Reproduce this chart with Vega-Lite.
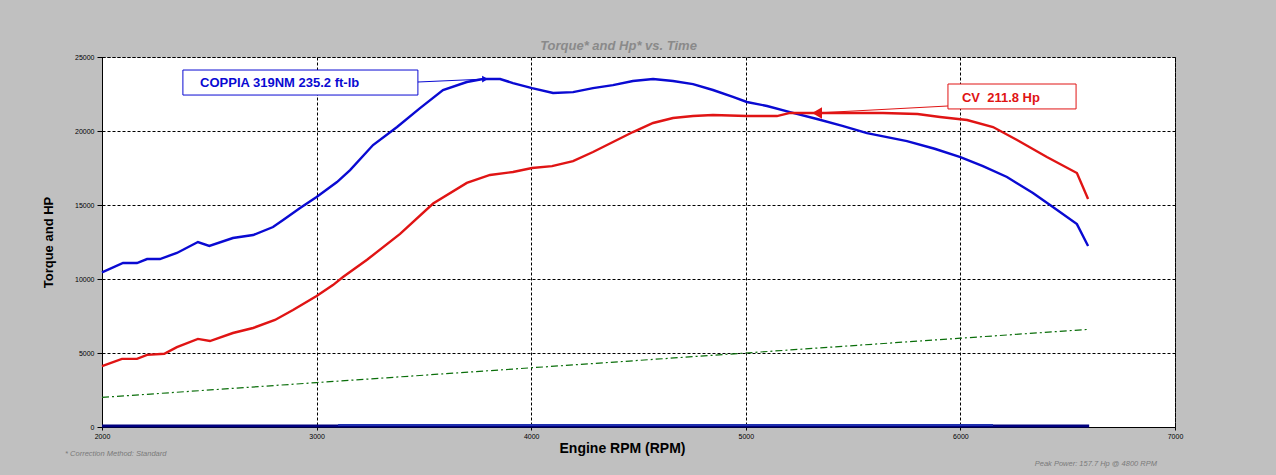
{
  "$schema": "https://vega.github.io/schema/vega-lite/v6.json",
  "width": 1073,
  "height": 370,
  "autosize": {"type": "none"},
  "padding": {"left": 102, "top": 57, "right": 101, "bottom": 48},
  "background": "#c0c0c0",
  "config": {
    "view": {"fill": "white", "stroke": "black", "strokeDash": [3, 2], "strokeWidth": 1},
    "font": "Liberation Sans"
  },
  "title": {
    "text": "Torque* and Hp* vs. Time",
    "anchor": "middle",
    "dx": -20,
    "offset": 0,
    "fontSize": 13,
    "fontWeight": "bold",
    "fontStyle": "italic",
    "color": "#8a8a8a",
    "font": "Liberation Sans"
  },
  "datasets": {
    "curves": [
      {"rpm": 2000, "value": 10450, "series": "torque"},
      {"rpm": 2098, "value": 11080, "series": "torque"},
      {"rpm": 2163, "value": 11080, "series": "torque"},
      {"rpm": 2210, "value": 11350, "series": "torque"},
      {"rpm": 2270, "value": 11350, "series": "torque"},
      {"rpm": 2349, "value": 11760, "series": "torque"},
      {"rpm": 2447, "value": 12500, "series": "torque"},
      {"rpm": 2500, "value": 12230, "series": "torque"},
      {"rpm": 2610, "value": 12770, "series": "torque"},
      {"rpm": 2704, "value": 12970, "series": "torque"},
      {"rpm": 2797, "value": 13510, "series": "torque"},
      {"rpm": 2844, "value": 13990, "series": "torque"},
      {"rpm": 2923, "value": 14800, "series": "torque"},
      {"rpm": 3000, "value": 15540, "series": "torque"},
      {"rpm": 3095, "value": 16550, "series": "torque"},
      {"rpm": 3156, "value": 17360, "series": "torque"},
      {"rpm": 3263, "value": 19050, "series": "torque"},
      {"rpm": 3375, "value": 20270, "series": "torque"},
      {"rpm": 3482, "value": 21550, "series": "torque"},
      {"rpm": 3589, "value": 22770, "series": "torque"},
      {"rpm": 3700, "value": 23310, "series": "torque"},
      {"rpm": 3775, "value": 23510, "series": "torque"},
      {"rpm": 3855, "value": 23510, "series": "torque"},
      {"rpm": 3915, "value": 23240, "series": "torque"},
      {"rpm": 4004, "value": 22900, "series": "torque"},
      {"rpm": 4102, "value": 22570, "series": "torque"},
      {"rpm": 4195, "value": 22630, "series": "torque"},
      {"rpm": 4288, "value": 22900, "series": "torque"},
      {"rpm": 4381, "value": 23100, "series": "torque"},
      {"rpm": 4474, "value": 23380, "series": "torque"},
      {"rpm": 4568, "value": 23510, "series": "torque"},
      {"rpm": 4661, "value": 23380, "series": "torque"},
      {"rpm": 4754, "value": 23170, "series": "torque"},
      {"rpm": 4847, "value": 22770, "series": "torque"},
      {"rpm": 4940, "value": 22300, "series": "torque"},
      {"rpm": 5005, "value": 21960, "series": "torque"},
      {"rpm": 5099, "value": 21690, "series": "torque"},
      {"rpm": 5206, "value": 21280, "series": "torque"},
      {"rpm": 5332, "value": 20810, "series": "torque"},
      {"rpm": 5450, "value": 20350, "series": "torque"},
      {"rpm": 5565, "value": 19860, "series": "torque"},
      {"rpm": 5751, "value": 19320, "series": "torque"},
      {"rpm": 5880, "value": 18800, "series": "torque"},
      {"rpm": 6000, "value": 18240, "series": "torque"},
      {"rpm": 6105, "value": 17630, "series": "torque"},
      {"rpm": 6217, "value": 16890, "series": "torque"},
      {"rpm": 6338, "value": 15810, "series": "torque"},
      {"rpm": 6431, "value": 14860, "series": "torque"},
      {"rpm": 6543, "value": 13710, "series": "torque"},
      {"rpm": 6595, "value": 12230, "series": "torque"},
      {"rpm": 2000, "value": 4120, "series": "hp"},
      {"rpm": 2093, "value": 4600, "series": "hp"},
      {"rpm": 2163, "value": 4600, "series": "hp"},
      {"rpm": 2210, "value": 4870, "series": "hp"},
      {"rpm": 2290, "value": 4950, "series": "hp"},
      {"rpm": 2349, "value": 5400, "series": "hp"},
      {"rpm": 2447, "value": 5950, "series": "hp"},
      {"rpm": 2503, "value": 5810, "series": "hp"},
      {"rpm": 2610, "value": 6350, "series": "hp"},
      {"rpm": 2704, "value": 6690, "series": "hp"},
      {"rpm": 2806, "value": 7230, "series": "hp"},
      {"rpm": 2890, "value": 7900, "series": "hp"},
      {"rpm": 3000, "value": 8850, "series": "hp"},
      {"rpm": 3076, "value": 9590, "series": "hp"},
      {"rpm": 3123, "value": 10135, "series": "hp"},
      {"rpm": 3235, "value": 11300, "series": "hp"},
      {"rpm": 3389, "value": 13050, "series": "hp"},
      {"rpm": 3543, "value": 15100, "series": "hp"},
      {"rpm": 3700, "value": 16490, "series": "hp"},
      {"rpm": 3808, "value": 17030, "series": "hp"},
      {"rpm": 3915, "value": 17230, "series": "hp"},
      {"rpm": 4004, "value": 17500, "series": "hp"},
      {"rpm": 4097, "value": 17630, "series": "hp"},
      {"rpm": 4195, "value": 17970, "series": "hp"},
      {"rpm": 4288, "value": 18580, "series": "hp"},
      {"rpm": 4381, "value": 19260, "series": "hp"},
      {"rpm": 4474, "value": 19930, "series": "hp"},
      {"rpm": 4568, "value": 20540, "series": "hp"},
      {"rpm": 4661, "value": 20880, "series": "hp"},
      {"rpm": 4754, "value": 21010, "series": "hp"},
      {"rpm": 4847, "value": 21080, "series": "hp"},
      {"rpm": 5005, "value": 21010, "series": "hp"},
      {"rpm": 5145, "value": 21010, "series": "hp"},
      {"rpm": 5206, "value": 21220, "series": "hp"},
      {"rpm": 5400, "value": 21220, "series": "hp"},
      {"rpm": 5639, "value": 21220, "series": "hp"},
      {"rpm": 5800, "value": 21150, "series": "hp"},
      {"rpm": 5905, "value": 20950, "series": "hp"},
      {"rpm": 6031, "value": 20740, "series": "hp"},
      {"rpm": 6152, "value": 20270, "series": "hp"},
      {"rpm": 6264, "value": 19390, "series": "hp"},
      {"rpm": 6403, "value": 18240, "series": "hp"},
      {"rpm": 6543, "value": 17160, "series": "hp"},
      {"rpm": 6595, "value": 15400, "series": "hp"},
      {"rpm": 2000, "value": 2000, "series": "rpm"},
      {"rpm": 3000, "value": 3000, "series": "rpm"},
      {"rpm": 4000, "value": 4000, "series": "rpm"},
      {"rpm": 5000, "value": 5000, "series": "rpm"},
      {"rpm": 6000, "value": 6000, "series": "rpm"},
      {"rpm": 6600, "value": 6600, "series": "rpm"},
      {"rpm": 2000, "value": 70, "series": "base"},
      {"rpm": 6600, "value": 70, "series": "base"},
      {"rpm": 3100, "value": 140, "series": "base2"},
      {"rpm": 6152, "value": 140, "series": "base2"}
    ],
    "notes": [
      {"series": "torque", "label": "COPPIA 319NM 235.2 ft-lb", "x1": 2377, "x2": 3472, "y1": 22430, "y2": 24120, "tx": 2457, "ty": 23240, "ax1": 3472, "ay1": 23310, "ax2": 3785, "ay2": 23510},
      {"series": "hp", "label": "CV\u00a0\u00a0211.8 Hp", "x1": 5942, "x2": 6539, "y1": 21490, "y2": 23175, "tx": 6007, "ty": 22220, "ax1": 5942, "ay1": 21690, "ax2": 5332, "ay2": 21220}
    ],
    "footnotes": [
      {"label": "* Correction Method: Standard", "rpm": 1828, "value": -1824},
      {"label": "Peak Power: 157.7 Hp @ 4800 RPM", "rpm": 6916, "value": -2500}
    ]
  },
  "encoding": {
    "x": {
      "type": "quantitative",
      "scale": {"domain": [2000, 7000], "nice": false, "zero": false},
      "axis": {
        "title": "Engine RPM (RPM)",
        "values": [2000, 3000, 4000, 5000, 6000, 7000],
        "format": "d",
        "labelOverlap": false,
        "labelFontSize": 7,
        "labelColor": "black",
        "labelPadding": 2,
        "labelFlush": false,
        "tickSize": 3,
        "tickColor": "black",
        "domainColor": "black",
        "grid": true,
        "gridColor": "black",
        "gridDash": [3, 2],
        "titleFontSize": 14,
        "titleFontWeight": "bold",
        "titleColor": "black",
        "titleX": 520,
        "titleY": 21,
        "titleBaseline": "middle"
      }
    },
    "y": {
      "type": "quantitative",
      "scale": {"domain": [0, 25000], "nice": false},
      "axis": {
        "title": "Torque and HP",
        "values": [0, 5000, 10000, 15000, 20000, 25000],
        "format": "d",
        "labelOverlap": false,
        "labelFontSize": 7,
        "labelColor": "black",
        "labelPadding": 3,
        "labelFlush": false,
        "tickSize": 5,
        "tickColor": "black",
        "domainColor": "black",
        "grid": true,
        "gridColor": "black",
        "gridDash": [3, 2],
        "titleFontSize": 13,
        "titleFontWeight": "bold",
        "titleColor": "black",
        "titleX": -54,
        "titleY": 185,
        "titleAngle": -90,
        "titleAlign": "center",
        "titleBaseline": "middle"
      }
    }
  },
  "layer": [
    {
      "data": {"name": "curves"},
      "transform": [{"filter": "datum.series === 'rpm'"}],
      "mark": {"type": "line", "color": "#0a6e0a", "strokeWidth": 1.2, "strokeDash": [7, 3, 2, 3]},
      "encoding": {"x": {"field": "rpm"}, "y": {"field": "value"}}
    },
    {
      "data": {"name": "curves"},
      "transform": [{"filter": "datum.series === 'base'"}],
      "mark": {"type": "line", "color": "#000080", "strokeWidth": 3},
      "encoding": {"x": {"field": "rpm"}, "y": {"field": "value"}}
    },
    {
      "data": {"name": "curves"},
      "transform": [{"filter": "datum.series === 'base2'"}],
      "mark": {"type": "line", "color": "#1f2fb0", "strokeWidth": 2},
      "encoding": {"x": {"field": "rpm"}, "y": {"field": "value"}}
    },
    {
      "data": {"name": "curves"},
      "transform": [{"filter": "datum.series === 'torque' || datum.series === 'hp'"}],
      "mark": {"type": "line", "strokeWidth": 2.4},
      "encoding": {
        "x": {"field": "rpm"},
        "y": {"field": "value"},
        "color": {"field": "series", "type": "nominal", "scale": {"domain": ["torque", "hp"], "range": ["#0a0ad2", "#e01414"]}, "legend": null}
      }
    },
    {
      "data": {"name": "notes"},
      "mark": {"type": "rect", "fill": "white", "strokeWidth": 1},
      "encoding": {
        "x": {"field": "x1"},
        "x2": {"field": "x2"},
        "y": {"field": "y1"},
        "y2": {"field": "y2"},
        "stroke": {"field": "series", "type": "nominal", "scale": {"domain": ["torque", "hp"], "range": ["#0a0ad2", "#e01414"]}, "legend": null}
      }
    },
    {
      "data": {"name": "notes"},
      "mark": {"type": "rule", "strokeWidth": 1},
      "encoding": {
        "x": {"field": "ax1"},
        "x2": {"field": "ax2"},
        "y": {"field": "ay1"},
        "y2": {"field": "ay2"},
        "color": {"field": "series", "type": "nominal", "legend": null}
      }
    },
    {
      "data": {"name": "notes"},
      "mark": {"type": "point", "filled": true, "opacity": 1},
      "encoding": {
        "x": {"field": "ax2"},
        "y": {"field": "ay2"},
        "color": {"field": "series", "type": "nominal", "legend": null},
        "shape": {"field": "series", "type": "nominal", "scale": {"domain": ["torque", "hp"], "range": ["triangle-right", "triangle-left"]}, "legend": null},
        "size": {"field": "series", "type": "nominal", "scale": {"domain": ["torque", "hp"], "range": [45, 130]}, "legend": null}
      }
    },
    {
      "data": {"name": "notes"},
      "mark": {"type": "text", "align": "left", "baseline": "middle", "fontWeight": "bold", "fontSize": 13, "font": "Liberation Sans"},
      "encoding": {
        "x": {"field": "tx"},
        "y": {"field": "ty"},
        "text": {"field": "label"},
        "color": {"field": "series", "type": "nominal", "legend": null}
      }
    },
    {
      "data": {"name": "footnotes"},
      "mark": {"type": "text", "baseline": "middle", "fontStyle": "italic", "fontSize": 7.5, "color": "#7a7a7a", "font": "Liberation Sans", "align": {"expr": "datum.rpm > 5000 ? 'right' : 'left'"}},
      "encoding": {
        "x": {"field": "rpm"},
        "y": {"field": "value"},
        "text": {"field": "label"}
      }
    }
  ]
}
